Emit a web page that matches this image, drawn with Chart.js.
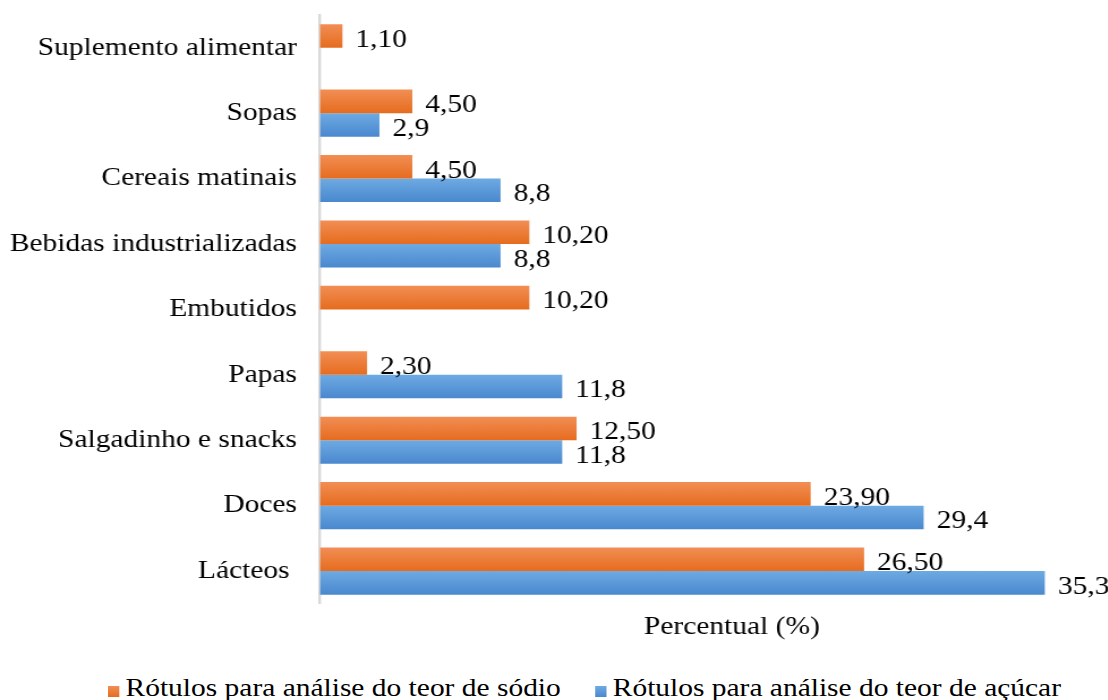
<!DOCTYPE html>
<html>
<head>
<meta charset="utf-8">
<script src="https://cdn.jsdelivr.net/npm/chart.js@4/dist/chart.umd.min.js"></script>
<style>
  body { margin: 0; background: #fff; }
  #wrap { position: relative; width: 1108px; height: 700px; overflow: hidden; }
  #grafico { position: absolute; left: 0; top: 0; }
  #legenda { position: absolute; left: 108px; top: 670px; width: 900px; height: 36px;
             transform: scaleX(1.133); transform-origin: left top;
             font: 26px "Liberation Serif", "Times New Roman", serif; color: #000; line-height: 36px; }
  #legenda .item { position: absolute; top: 0; white-space: nowrap; }
  #legenda .cor { display: inline-block; width: 9.5px; height: 11px; margin-right: 6px; vertical-align: -1px; }
</style>
</head>
<body>
<div id="wrap">
  <!-- o canvas é desenhado mais estreito e esticado na horizontal (x1.133) -->
  <canvas id="grafico" width="1010" height="660" style="width:1144.3px;height:660px"></canvas>
  <div id="legenda"></div>
</div>
<script>
// Dados do gráfico
const categorias = ["Suplemento alimentar", "Sopas", "Cereais matinais", "Bebidas industrializadas",
                    "Embutidos", "Papas", "Salgadinho e snacks", "Doces", "Lácteos "];
const nomesSeries = ["Rótulos para análise do teor de sódio", "Rótulos para análise do teor de açúcar"];
const sodio = [1.10, 4.50, 4.50, 10.20, 10.20, 2.30, 12.50, 23.90, 26.50];
const acucar = [null, 2.9, 8.8, 8.8, null, 11.8, 11.8, 29.4, 35.3];
const casasDecimais = [2, 1];

// Cores (topo, base) do degradê de cada série
const cores = [
    ['#f28e55', '#e66c1e'],
    ['#6eaae2', '#4a88cf']
];

const fonte = { family: '"Liberation Serif", "Times New Roman", serif', size: 26 };

// Degradê vertical em cada barra
const degrade = {
    id: 'degrade',
    beforeDatasetsDraw(chart) {
        const ctx = chart.ctx;
        chart.data.datasets.forEach((ds, i) => {
            chart.getDatasetMeta(i).data.forEach(barra => {
                const topo = barra.y - barra.height / 2;
                if (!isFinite(topo) || !isFinite(barra.height)) return;
                const g = ctx.createLinearGradient(0, topo, 0, topo + barra.height);
                g.addColorStop(0, cores[i][0]);
                g.addColorStop(1, cores[i][1]);
                barra.options = Object.assign({}, barra.options, { backgroundColor: g });
            });
        });
    }
};

// Valores escritos no fim das barras
const rotulos = {
    id: 'rotulos',
    afterDatasetsDraw(chart) {
        const ctx = chart.ctx;
        ctx.save();
        ctx.font = fonte.size + 'px ' + fonte.family;
        ctx.fillStyle = '#000';
        ctx.textBaseline = 'middle';
        ctx.textAlign = 'left';
        chart.data.datasets.forEach((ds, i) => {
            chart.getDatasetMeta(i).data.forEach((barra, j) => {
                const v = ds.data[j];
                if (v === null) return;
                ctx.fillText(v.toFixed(casasDecimais[i]).replace('.', ','), barra.x + 11.5, barra.y + 4);
            });
        });
        ctx.restore();
    }
};

const data = {
    labels: categorias,
    datasets: [
        { label: nomesSeries[0], data: sodio, backgroundColor: cores[0][1] },
        { label: nomesSeries[1], data: acucar, backgroundColor: cores[1][1] }
    ]
};

const config = {
    type: 'bar',
    data: data,
    options: {
        indexAxis: 'y',
        responsive: false,
        animation: false,
        categoryPercentage: 0.72,
        barPercentage: 1,
        layout: { padding: { top: 15, right: 0, bottom: 0, left: 0 } },
        plugins: {
            legend: { display: false },
            tooltip: { enabled: false }
        },
        scales: {
            x: {
                min: 0,
                max: 40.13,
                grid: { display: false, drawTicks: false },
                border: { display: false },
                ticks: { display: false },
                title: {
                    display: true,
                    text: 'Percentual (%)',
                    color: '#000',
                    font: fonte,
                    padding: { top: 8, bottom: 17 }
                }
            },
            y: {
                grid: { display: false, drawTicks: false },
                border: { color: '#d9d9d9', width: 2.4 },
                ticks: { color: '#000', font: fonte, padding: 20.3, autoSkip: false },
                afterFit(scale) {
                    scale.width = 282.4;
                    scale.paddingTop = 0;
                    scale.paddingBottom = 0;
                }
            }
        }
    },
    plugins: [degrade, rotulos]
};

const chart = new Chart(document.getElementById('grafico'), config);

// Legenda em HTML abaixo do gráfico
const posLegenda = [0, 430];
const legenda = document.getElementById('legenda');
chart.data.datasets.forEach((ds, i) => {
    const item = document.createElement('div');
    item.className = 'item';
    item.style.left = posLegenda[i] + 'px';
    const cor = document.createElement('span');
    cor.className = 'cor';
    cor.style.background = 'linear-gradient(' + cores[i][0] + ', ' + cores[i][1] + ')';
    item.appendChild(cor);
    item.appendChild(document.createTextNode(ds.label));
    legenda.appendChild(item);
});
</script>
</body>
</html>
